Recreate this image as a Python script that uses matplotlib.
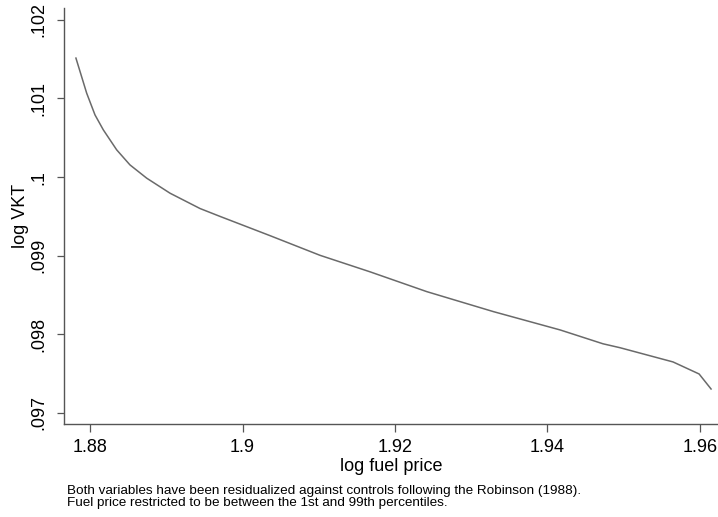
import matplotlib

matplotlib.use("Agg")
import matplotlib.pyplot as plt

# curve
fuel_price = [1.87812, 1.87953, 1.88062, 1.88171, 1.88347, 1.88521, 1.88741, 1.89047,
              1.89441, 1.89703, 1.90360, 1.91016, 1.91673, 1.92418, 1.93292, 1.94168,
              1.94730, 1.94954, 1.95650, 1.95992, 1.96149]
log_vkt = [0.101513, 0.101067, 0.100791, 0.100601, 0.100346, 0.100155, 0.099986, 0.099795,
           0.099600, 0.099500, 0.099255, 0.099005, 0.098795, 0.098543, 0.098289, 0.098056,
           0.097880, 0.097830, 0.097649, 0.097496, 0.097305]

x_ticks = [1.88, 1.90, 1.92, 1.94, 1.96]
x_tick_labels = ["1.88", "1.9", "1.92", "1.94", "1.96"]
y_ticks = [0.097, 0.098, 0.099, 0.100, 0.101, 0.102]
y_tick_labels = [".097", ".098", ".099", ".1", ".101", ".102"]

note_lines = ["Both variables have been residualized against controls following the Robinson (1988).",
              "Fuel price restricted to be between the 1st and 99th percentiles."]

plt.rcParams["font.family"] = ["Liberation Sans", "DejaVu Sans"]

fig = plt.figure(figsize=(7.18, 5.17), dpi=100)
ax = fig.add_axes([0.0891, 0.1799, 0.9109, 0.8046])

ax.plot(fuel_price, log_vkt, color="#6a6a6a", linewidth=1.1)

ax.set_xlim(1.87655, 1.9624)
ax.set_ylim(0.09686, 0.10215)
ax.set_xticks(x_ticks)
ax.set_xticklabels(x_tick_labels)
ax.set_yticks(y_ticks)
ax.set_yticklabels(y_tick_labels, rotation=90, va="center")

for side in ["top", "right"]:
    ax.spines[side].set_visible(False)
for side in ["left", "bottom"]:
    ax.spines[side].set_color("#555555")
    ax.spines[side].set_linewidth(1.0)

ax.tick_params(axis="x", length=5.5, width=0.9, color="#555555", labelsize=13, pad=5.5)
ax.tick_params(axis="y", length=4.8, width=0.9, color="#555555", labelsize=13, pad=7)

ax.set_xlabel("log fuel price", fontsize=13, labelpad=1.5)
ax.set_ylabel("log VKT", fontsize=13, labelpad=1)

for line, y in zip(note_lines, [0.0445, 0.0213]):
    fig.text(0.0929, y, line, fontsize=9.7, ha="left", va="baseline")

fig.savefig("out.png", dpi=100)
